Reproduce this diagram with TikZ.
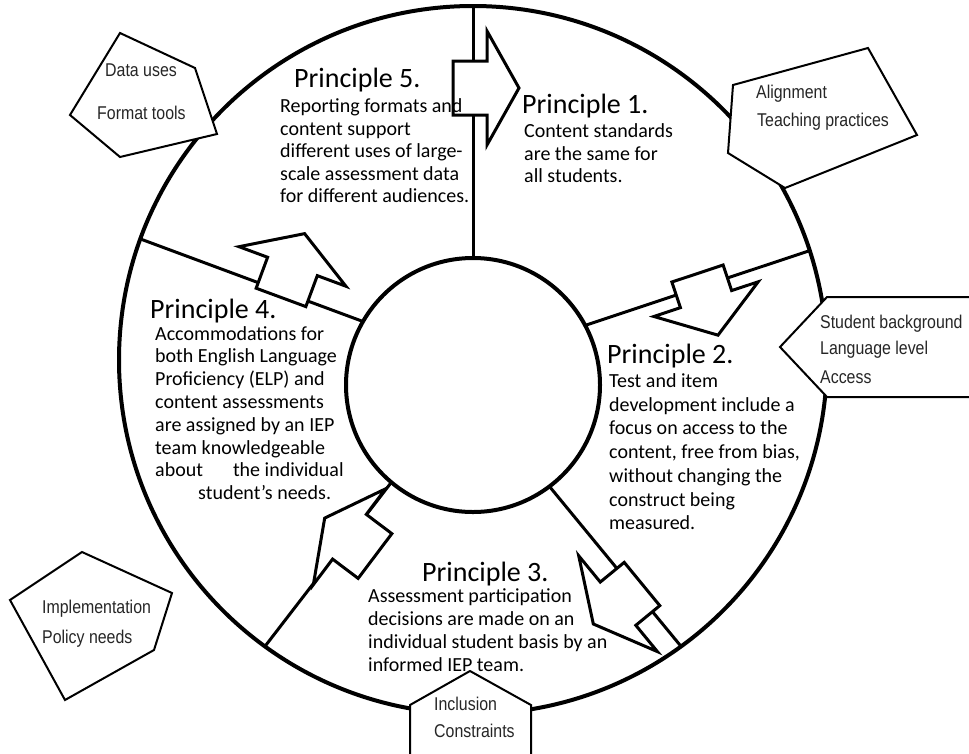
\documentclass[tikz,border=0pt]{standalone}
\usepackage{fontspec}
\setmainfont{Carlito}
\newfontfamily\boxfont[FakeStretch=0.86]{Liberation Sans}
\newcommand{\barrow}[7]{\begin{scope}[shift={(#1,#2)},rotate=#3]\draw[blockarr] (0,-#6) -- (#4,-#6) -- (#4,-#7) -- ({#4+#5},0) -- (#4,#7) -- (#4,#6) -- (0,#6) -- cycle;\end{scope}}
\begin{document}
\begin{tikzpicture}[x=1pt,y=-1pt,
  ring/.style={circle,draw,line width=4pt,inner sep=0pt,outer sep=0pt},
  spoke/.style={line width=3pt},
  blockarr/.style={draw,fill=white,line width=3pt,line join=miter},
  pent/.style={draw,fill=white,line width=2pt,line join=miter},
  ptitle/.style={font=\fontsize{28}{32}\selectfont,anchor=base west,inner sep=0pt},
  pbody/.style={font=\fontsize{20}{24}\selectfont,anchor=base west,inner sep=0pt},
  boxtxt/.style={font=\boxfont\fontsize{18.5}{22}\selectfont,anchor=base west,inner sep=0pt,text=black!85}]
\useasboundingbox (0,0) rectangle (969,753);
\fill[white] (0,0) rectangle (969,753);
% rings and spokes
\node[ring,minimum size=708pt] (outer) at (473,360) {};
\node[ring,minimum size=254pt] (inner) at (473,385) {};
\draw[spoke] (inner.90) -- (outer.90);
\draw[spoke] (inner.28) -- (outer.18);
\draw[spoke] (inner.-53) -- (outer.-54);
\draw[spoke] (inner.-130) -- (outer.-126);
\draw[spoke] (inner.150) -- (outer.160);
% block arrows (x, y, rotate, shaft, head, half shaft, half head)
\barrow{453}{88}{0}{34}{32}{27}{57}
\barrow{697.5}{273.5}{-71.6}{27}{38}{27}{55}
\barrow{642}{584}{-140.6}{31}{32}{28}{62}
\barrow{375}{556}{-217}{32}{31}{28}{60}
\barrow{281}{297.4}{69.7}{33}{35}{26.5}{57}
% pentagons
\draw[pent] (120,33) -- (195,68) -- (217,134) -- (120,157) -- (70,115) -- cycle;
\draw[pent] (733,85) -- (868,48) -- (917,135) -- (785,188) -- (728,153) -- cycle;
\draw[pent] (972,297) -- (827,297) -- (780,347) -- (827,397) -- (972,397) -- cycle;
\draw[pent] (10,600) -- (82,552) -- (172,593) -- (154,650) -- (65,700) -- cycle;
\draw[pent] (410,756) -- (410,705) -- (470,671) -- (531,705) -- (531,756) -- cycle;
% pentagon texts
\node[boxtxt] (t1) at (105,76.5) {Data uses};
\node[boxtxt] (t2) at (97,119) {Format tools};
\node[boxtxt] (t3) at (756,98.5) {Alignment};
\node[boxtxt] (t4) at (757,126.5) {Teaching practices};
\node[boxtxt] (t5) at (820,328.5) {Student background};
\node[boxtxt] (t6) at (820,354.5) {Language level};
\node[boxtxt] (t7) at (820,383.5) {Access};
\node[boxtxt] (t8) at (42,613) {Implementation};
\node[boxtxt] (t9) at (42,643) {Policy needs};
\node[boxtxt] (t10) at (434,710) {Inclusion};
\node[boxtxt] (t11) at (434,737) {Constraints};
% Principle 5
\node[ptitle] (p5t) at (294,87.5) {Principle 5.};
\foreach \t [count=\i from 0] in {Reporting formats and, content support, different uses of large-, scale assessment data, for different audiences.}
  \node[pbody] (p5b\i) at (280,{112.5+\i*22.5}) {\t};
% Principle 1
\node[ptitle] (p1t) at (522,113) {Principle 1.};
\foreach \t [count=\i from 0] in {Content standards, are the same for, all students.}
  \node[pbody] (p1b\i) at (524,{137.5+\i*22.5}) {\t};
% Principle 2
\node[ptitle] (p2t) at (607,363) {Principle 2.};
\foreach \t [count=\i from 0] in {Test and item, development include a, focus on access to the, {content, free from bias,}, without changing the, construct being, measured.}
  \node[pbody] (p2b\i) at (609,{387.5+\i*23.7}) {\t};
% Principle 3
\node[ptitle] (p3t) at (422,581) {Principle 3.};
\foreach \t [count=\i from 0] in {Assessment participation, decisions are made on an, individual student basis by an, informed IEP team.}
  \node[pbody] (p3b\i) at (368,{602+\i*23}) {\t};
% Principle 4
\node[ptitle] (p4t) at (150,318) {Principle 4.};
\foreach \t [count=\i from 0] in {Accommodations for, both English Language, Proficiency (ELP) and, content assessments, are assigned by an IEP, team knowledgeable, about\hspace{30pt}the individual}
  \node[pbody] (p4b\i) at (155,{340+\i*22.8}) {\t};
\node[pbody] (p4b7) at (198,499.6) {student’s needs.};
\end{tikzpicture}
\end{document}
